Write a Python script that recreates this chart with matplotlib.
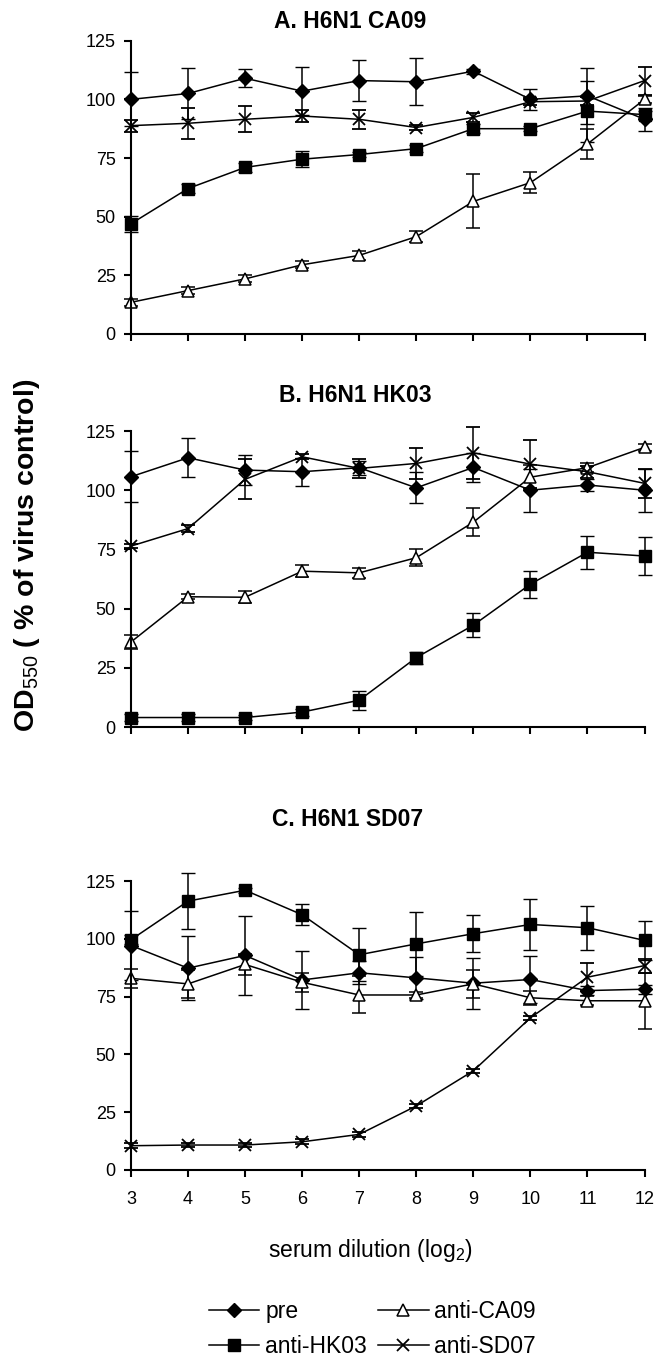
import matplotlib
matplotlib.use("Agg")
import matplotlib.pyplot as plt
from matplotlib.lines import Line2D

plt.rcParams['font.family'] = ['Liberation Sans', 'DejaVu Sans']
plt.rcParams['mathtext.fontset'] = 'custom'
plt.rcParams['mathtext.rm'] = 'Liberation Sans'
plt.rcParams['mathtext.it'] = 'Liberation Sans:italic'
plt.rcParams['mathtext.bf'] = 'Liberation Sans:bold'

# ---------------- data ----------------
dilution = [3, 4, 5, 6, 7, 8, 9, 10, 11, 12]
series_names = ["pre", "anti-CA09", "anti-HK03", "anti-SD07"]
panel_titles = ["A. H6N1 CA09", "B. H6N1 HK03", "C. H6N1 SD07"]
y_ticks = [0, 25, 50, 75, 100, 125]

# Panel A
pre_A = [100, 102.5, 109, 103.5, 108, 107.5, 112, 100, 101.5, 91.5]
pre_A_err = [11.5, 11, 3.8, 10.3, 8.8, 10, 1, 4.5, 12, 5]
ca09_A = [13.5, 18.5, 23.5, 29.5, 33.5, 41.5, 56.5, 64.5, 81, 100]
ca09_A_err = [1.5, 1.5, 1.5, 1.5, 2, 2.4, 11.5, 4.5, 6.3, 1.5]
hk03_A = [47, 62, 71, 74.5, 76.5, 79, 87.5, 87.5, 95, 93.5]
hk03_A_err = [3.4, 2, 2, 3.5, 1, 1.5, 2, 1, 13, 1.5]
sd07_A = [88.8, 89.8, 91.5, 92.9, 91.5, 88, 92.3, 99, 99.3, 108]
sd07_A_err = [2.5, 6.5, 5.5, 2.5, 4, 1, 2, 1.5, 1.5, 6]

# Panel B
pre_B = [105.7, 113.7, 108.5, 107.8, 109.5, 101, 109.6, 100, 102.2, 100]
pre_B_err = [10.8, 8.2, 6.5, 6, 3, 6.5, 6, 9, 2.5, 9]
ca09_B = [35.9, 55, 54.8, 65.8, 65.1, 71.5, 86.5, 105.5, 109.5, 118.1]
ca09_B_err = [3, 1, 2.5, 2.5, 2, 3.7, 5.8, 5, 2, 1.5]
hk03_B = [4, 4, 4, 6.3, 11.3, 29.3, 43, 60.3, 73.8, 72.2]
hk03_B_err = [1.5, 1.5, 1, 1.5, 4, 2.5, 5, 5.7, 7, 8]
sd07_B = [76.4, 83.8, 104.6, 114.1, 109.2, 111.3, 115.8, 111, 107.8, 102.9]
sd07_B_err = [1, 1.5, 8.5, 1, 4, 6.5, 11, 10, 2.5, 6]

# Panel C
pre_C = [97.1, 87.3, 92.8, 82.2, 85.3, 83.1, 80.8, 82.4, 77.6, 78.2]
pre_C_err = [15, 13.7, 17, 12.7, 5, 9, 11, 10, 2, 2]
ca09_C = [82.9, 80.5, 88.9, 81.2, 75.7, 75.7, 80.5, 74.5, 73.2, 73.2]
ca09_C_err = [4, 6, 4.5, 4, 8, 1.5, 6, 3, 2, 12]
hk03_C = [99.6, 116.3, 121, 110.4, 93.1, 97.8, 102.2, 106.2, 104.8, 99.3]
hk03_C_err = [2, 12, 1, 4.5, 11.5, 14, 8, 11, 9.5, 8.5]
sd07_C = [10.5, 10.8, 10.8, 12.2, 15.4, 27.7, 42.9, 65.8, 83.4, 88.4]
sd07_C_err = [1, 1, 1, 1, 1, 1, 1, 1, 6, 3]

panels = [
    [(pre_A, pre_A_err), (ca09_A, ca09_A_err), (hk03_A, hk03_A_err), (sd07_A, sd07_A_err)],
    [(pre_B, pre_B_err), (ca09_B, ca09_B_err), (hk03_B, hk03_B_err), (sd07_B, sd07_B_err)],
    [(pre_C, pre_C_err), (ca09_C, ca09_C_err), (hk03_C, hk03_C_err), (sd07_C, sd07_C_err)],
]

# ---------------- style ----------------
styles = [
    dict(marker='D', ms=7.5, mfc='black', mec='black', mew=1.0),
    dict(marker='^', ms=8.5, mfc='white', mec='black', mew=1.1),
    dict(marker='s', ms=8, mfc='black', mec='black', mew=1.0),
    dict(marker='x', ms=9, mfc='black', mec='black', mew=1.3),
]

W, H = 657, 1359
fig = plt.figure(figsize=(W / 100, H / 100), dpi=100)

x_left, x_right = 131, 644.5
panel_px = [(40.7, 334), (431, 727), (881, 1170)]
title_px = [(350, 22), (355, 396), (348, 820)]

for i, (top, bot) in enumerate(panel_px):
    ax = fig.add_axes([x_left / W, 1 - bot / H, (x_right - x_left) / W, (bot - top) / H])
    for (vals, errs), st in zip(panels[i], styles):
        cont = ax.errorbar(dilution, vals, yerr=errs, color='black', lw=1.1,
                           elinewidth=1.1, capsize=4.8, capthick=1.2, **st)
        for art in cont.get_children():
            art.set_clip_on(False)
    ax.set_xlim(3, 12)
    ax.set_ylim(0, 125)
    ax.set_yticks(y_ticks)
    ax.set_xticks(dilution)
    for s in ['top', 'right']:
        ax.spines[s].set_visible(False)
    for s in ['left', 'bottom']:
        ax.spines[s].set_linewidth(1.5)
    ax.tick_params(axis='both', direction='out', length=5, width=1.5, labelsize=13)
    ax.tick_params(axis='y', pad=6)
    ax.tick_params(axis='x', pad=10)
    if i < 2:
        ax.set_xticklabels([])
    else:
        ax.set_xticklabels([str(d) for d in dilution])
    tx, ty = title_px[i]
    fig.text(tx / W, 1 - ty / H, panel_titles[i], ha='center', va='center',
             fontsize=16.5, fontweight='bold')

fig.text(27 / W, 1 - 555 / H, "OD$_{550}$ ( % of virus control)", rotation=90,
         ha='center', va='center', fontsize=20.5, fontweight='bold')
fig.text(370 / W, 1 - 1250 / H, "serum dilution (log$_{2}$)", ha='center', va='center',
         fontsize=16.5)

handles = [Line2D([], [], color='black', lw=1.1, **st) for st in styles]
order = [0, 2, 1, 3]
fig.legend([handles[k] for k in order], [series_names[k] for k in order],
           ncol=2, loc='center', bbox_to_anchor=(372.5 / W, 1 - 1329 / H),
           frameon=False, fontsize=16.5, handlelength=2.2, handletextpad=0.25,
           columnspacing=0.5, labelspacing=0.55, borderpad=0)

fig.savefig("out.png", dpi=100)
